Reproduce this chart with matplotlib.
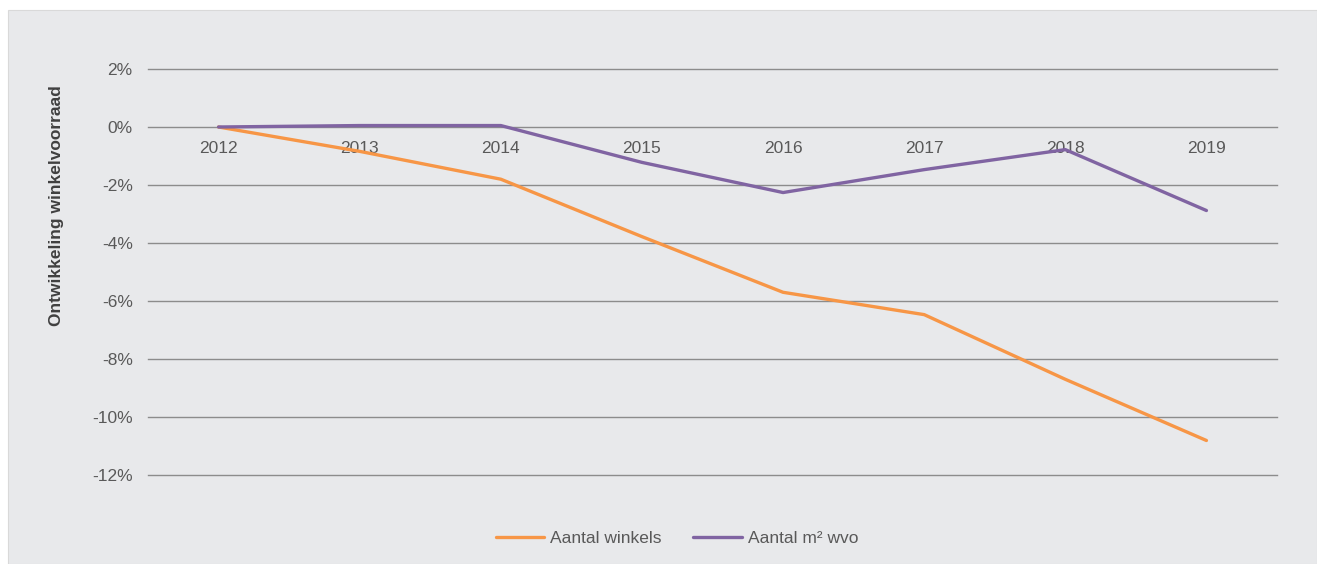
import matplotlib
matplotlib.use("Agg")
import matplotlib.pyplot as plt
from matplotlib.patches import Rectangle
from matplotlib.ticker import FuncFormatter

years = ["2012", "2013", "2014", "2015", "2016", "2017", "2018", "2019"]
winkels = [0.0, -0.84, -1.80, -3.78, -5.70, -6.47, -8.70, -10.81]
m2_wvo = [0.0, 0.05, 0.05, -1.22, -2.26, -1.47, -0.78, -2.88]
yticks = [2, 0, -2, -4, -6, -8, -10, -12]

plt.rcParams['font.family'] = ['Liberation Sans', 'DejaVu Sans']
FS = 12.5
W, H = 1317, 564
fig = plt.figure(figsize=(W / 100, H / 100), dpi=100)
fig.patch.set_facecolor('white')
bg = Rectangle((8 / W, 0), 1 - 8 / W, 1 - 10 / H, transform=fig.transFigure,
               facecolor='#E8E9EB', edgecolor='#D9D9D9', lw=0.8, zorder=-10)
fig.patches.append(bg)

ax = fig.add_axes([148 / W, 1 - 475 / H, (1277 - 148) / W, (475 - 69) / H])
ax.set_facecolor('none')
x = list(range(len(years)))
ax.plot(x, winkels, color='#F79646', lw=2.4, label='Aantal winkels', solid_capstyle='round', zorder=3)
ax.plot(x, m2_wvo, color='#8064A2', lw=2.4, label='Aantal m² wvo', solid_capstyle='round', zorder=3)

ax.set_xlim(-0.5, len(years) - 0.5)
ax.set_ylim(-12, 2)
ax.set_yticks(yticks)
ax.yaxis.set_major_formatter(FuncFormatter(lambda v, p: f"{int(v)}%"))
ax.grid(axis='y', color='#8C8C8C', lw=1.0, zorder=1)
ax.set_axisbelow(True)
for gl in ax.get_ygridlines():
    gl.set_clip_on(False)
for s in ax.spines.values():
    s.set_visible(False)
ax.spines['bottom'].set_position(('data', 0))
ax.set_xticks(x)
ax.set_xticklabels(years)
ax.tick_params(axis='x', length=0, pad=10, labelsize=FS, labelcolor='#595959')
ax.tick_params(axis='y', length=0, pad=11, labelsize=FS, labelcolor='#595959')

fig.text(57 / W, 1 - 206 / H, 'Ontwikkeling winkelvoorraad', rotation=90, ha='center', va='center',
         fontsize=FS, fontweight='bold', color='#404040')

fig.legend(loc='center', bbox_to_anchor=(677 / W, 1 - 538 / H), ncol=2, frameon=False,
           fontsize=FS, labelcolor='#595959', handlelength=2.8, handletextpad=0.35, columnspacing=1.8)

fig.savefig('out.png', dpi=100)
